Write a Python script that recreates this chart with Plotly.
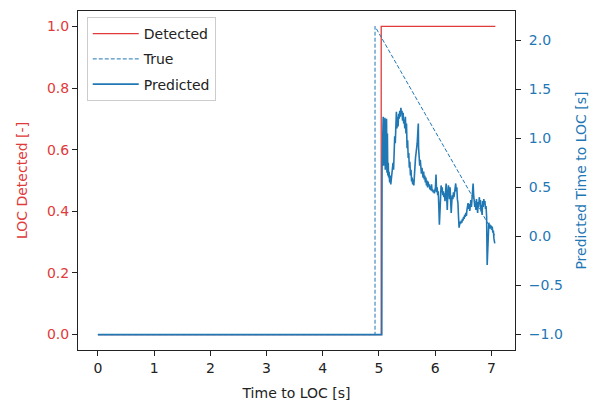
import plotly.graph_objects as go

# ---- data ----
det_t = [0.0, 5.04, 5.04, 7.07]
det_v = [0, 0, 1, 1]

true_t = [0.0, 4.93, 4.93, 7.07]
true_v = [-1.0, -1.0, 2.14, 0.0]

pred_t = [0.0, 5.050, 5.055, 5.062, 5.068, 5.075, 5.082, 5.090, 5.097, 5.105, 5.112, 5.120,
          5.127, 5.135, 5.142, 5.150, 5.157, 5.165, 5.172, 5.180, 5.190, 5.200, 5.210, 5.220,
          5.230, 5.240, 5.250, 5.260, 5.270, 5.280, 5.290, 5.300, 5.310, 5.320, 5.330, 5.340,
          5.350, 5.360, 5.370, 5.380, 5.390, 5.400, 5.410, 5.420, 5.430, 5.440, 5.450, 5.460,
          5.470, 5.480, 5.490, 5.500, 5.510, 5.520, 5.530, 5.540, 5.550, 5.560, 5.570, 5.580,
          5.590, 5.600, 5.610, 5.620, 5.630, 5.640, 5.650, 5.660, 5.670, 5.680, 5.690, 5.700,
          5.705, 5.715, 5.725, 5.735, 5.745, 5.755, 5.765, 5.775, 5.785, 5.795, 5.805, 5.815,
          5.825, 5.835, 5.845, 5.855, 5.865, 5.875, 5.885, 5.895, 5.905, 5.915, 5.925, 5.935,
          5.945, 5.955, 5.965, 5.975, 5.985, 5.995, 6.005, 6.015, 6.025, 6.035, 6.045, 6.055,
          6.065, 6.075, 6.085, 6.095, 6.105, 6.115, 6.125, 6.135, 6.145, 6.155, 6.165, 6.175,
          6.185, 6.195, 6.205, 6.215, 6.225, 6.235, 6.245, 6.255, 6.265, 6.275, 6.285, 6.295,
          6.305, 6.315, 6.325, 6.335, 6.345, 6.355, 6.365, 6.375, 6.385, 6.395, 6.405, 6.415,
          6.425, 6.435, 6.445, 6.455, 6.465, 6.475, 6.485, 6.495, 6.505, 6.515, 6.525, 6.535,
          6.545, 6.555, 6.565, 6.575, 6.585, 6.595, 6.605, 6.615, 6.625, 6.635, 6.645, 6.655,
          6.665, 6.675, 6.685, 6.695, 6.705, 6.715, 6.725, 6.735, 6.745, 6.755, 6.765, 6.775,
          6.785, 6.795, 6.805, 6.815, 6.825, 6.835, 6.845, 6.855, 6.865, 6.875, 6.885, 6.895,
          6.905, 6.915, 6.925, 6.935, 6.945, 6.955, 6.965, 6.975, 6.985, 6.995, 7.005, 7.015,
          7.025, 7.035, 7.045, 7.060]
pred_v = [-1.00, -1.00, 0.70, 1.20, 0.85, 1.22, 0.72, 1.18, 0.90, 1.21, 0.68, 1.15,
          0.80, 1.20, 0.65, 1.05, 0.62, 0.75, 0.60, 0.66, 0.55, 0.62, 0.53, 0.60,
          0.58, 0.70, 0.75, 0.68, 0.90, 1.02, 0.95, 1.20, 1.27, 1.10, 1.22, 1.12,
          1.25, 1.20, 1.28, 1.22, 1.31, 1.25, 1.28, 1.18, 1.26, 1.15, 1.19, 1.10,
          1.22, 1.05, 1.15, 0.90, 0.98, 0.80, 0.85, 0.70, 0.76, 0.62, 0.68, 0.56,
          0.60, 0.53, 0.58, 0.52, 0.66, 0.72, 0.80, 0.85, 0.88, 0.95, 1.05, 1.15,
          0.90, 0.82, 0.72, 0.78, 0.68, 0.64, 0.70, 0.62, 0.60, 0.66, 0.58, 0.62,
          0.55, 0.60, 0.52, 0.57, 0.50, 0.56, 0.51, 0.53, 0.48, 0.51, 0.47, 0.53,
          0.46, 0.48, 0.45, 0.47, 0.44, 0.46, 0.50, 0.63, 0.45, 0.50, 0.42, 0.46,
          0.30, 0.12, 0.25, 0.48, 0.52, 0.45, 0.50, 0.42, 0.46, 0.40, 0.44, 0.36,
          0.50, 0.54, 0.40, 0.27, 0.45, 0.52, 0.48, 0.38, 0.50, 0.30, 0.24, 0.35,
          0.42, 0.38, 0.45, 0.40, 0.48, 0.50, 0.54, 0.46, 0.50, 0.38, 0.34, 0.20,
          0.09, 0.12, 0.15, 0.13, 0.16, 0.14, 0.18, 0.16, 0.20, 0.18, 0.22, 0.20,
          0.24, 0.21, 0.27, 0.30, 0.34, 0.28, 0.33, 0.26, 0.31, 0.37, 0.30, 0.40,
          0.46, 0.54, 0.42, 0.36, 0.30, 0.34, 0.27, 0.38, 0.32, 0.24, 0.35, 0.30,
          0.40, 0.33, 0.37, 0.26, 0.32, 0.22, 0.36, 0.30, 0.38, 0.33, 0.36, 0.28,
          0.31, 0.20, -0.29, -0.10, 0.10, 0.14, 0.08, 0.12, 0.09, 0.11, 0.08, 0.10,
          0.04, 0.06, -0.02, -0.07]

x_ticks = [0, 1, 2, 3, 4, 5, 6, 7]
y1_ticks = [0.0, 0.2, 0.4, 0.6, 0.8, 1.0]
y2_ticks = [-1.0, -0.5, 0.0, 0.5, 1.0, 1.5, 2.0]

RED = "#e03a3a"
BLUE = "#1f77b4"
FONT = "DejaVu Sans"
FS = 14

fig = go.Figure()
fig.add_trace(go.Scatter(x=det_t, y=det_v, mode="lines", name="Detected",
                         line=dict(color=RED, width=1.3), yaxis="y", legendgroup="a"))
fig.add_trace(go.Scatter(x=true_t, y=true_v, mode="lines", name="True",
                         line=dict(color=BLUE, width=1.0, dash="4px,2px"), yaxis="y2", legendgroup="b"))
fig.add_trace(go.Scatter(x=pred_t, y=pred_v, mode="lines", name="Predicted",
                         line=dict(color=BLUE, width=1.6), yaxis="y2", legendgroup="c"))

fig.update_layout(
    width=591, height=394,
    margin=dict(l=70, r=84, t=3, b=52),
    paper_bgcolor="white", plot_bgcolor="white",
    font=dict(family=FONT, size=FS, color="#222222"),
    showlegend=True,
    legend=dict(x=0.02, y=0.982, xanchor="left", yanchor="top",
                bgcolor="rgba(255,255,255,0.8)", bordercolor="#cccccc", borderwidth=1,
                font=dict(size=FS), traceorder="grouped", tracegroupgap=4, itemwidth=46),
    xaxis=dict(range=[-0.354, 7.42], tickvals=x_ticks, ticks="outside", ticklen=5,
               tickcolor="#222", showline=True, linecolor="#222", linewidth=1, mirror=True,
               showgrid=False, zeroline=False, automargin=False,
               title=dict(text="Time to LOC [s]", standoff=13, font=dict(size=FS))),
    yaxis=dict(range=[-0.05, 1.05], tickvals=y1_ticks, tickformat=".1f", ticks="outside",
               ticklen=5, tickcolor="#222", showline=True, linecolor="#222", linewidth=1,
               showgrid=False, zeroline=False, automargin=False, tickfont=dict(color=RED),
               title=dict(text="LOC Detected [-]", font=dict(color=RED, size=FS), standoff=16)),
    yaxis2=dict(range=[-1.157, 2.297], tickvals=y2_ticks, tickformat=".1f", ticks="outside",
                ticklen=5, tickcolor="#222", showline=True, linecolor="#222", linewidth=1,
                showgrid=False, zeroline=False, overlaying="y", side="right", automargin=False,
                tickfont=dict(color=BLUE), ticklabelstandoff=5,
                title=dict(text="Predicted Time to LOC [s]", font=dict(color=BLUE, size=FS), standoff=14)),
)

fig.write_html("out.html")
